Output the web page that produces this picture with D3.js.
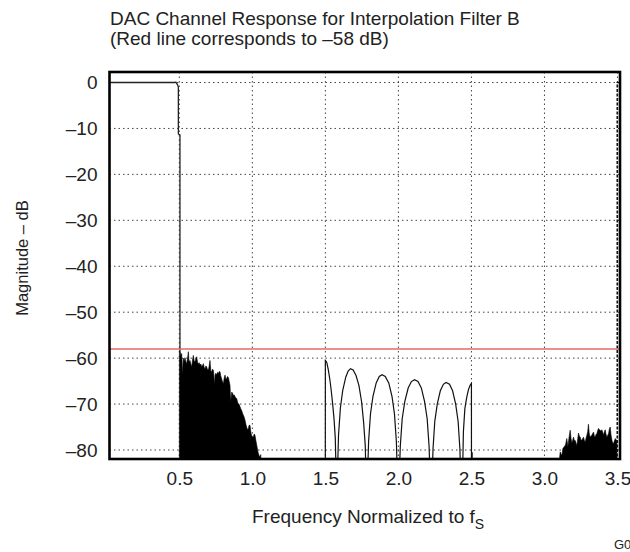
<!DOCTYPE html>
<html>
<head>
<meta charset="utf-8">
<script src="https://cdn.jsdelivr.net/npm/d3@7"></script>
<style>
  body { margin: 0; background: #fff; }
  svg { display: block; }
  text { font-family: "Liberation Sans", Arial, Helvetica, sans-serif; fill: #222; }
</style>
</head>
<body>
<svg id="chart" width="630" height="552"></svg>
<script>
// ---------- data ----------
const titleLines = ["DAC Channel Response for Interpolation Filter B", "(Red line corresponds to \u201358 dB)"];
const xLabel = "Frequency Normalized to f";
const xLabelSub = "S";
const yLabel = "Magnitude \u2013 dB";
const figureId = "G0";
const xTicks = [0.5, 1.0, 1.5, 2.0, 2.5, 3.0, 3.5];
const yTicks = [0, -10, -20, -30, -40, -50, -60, -70, -80];
const referenceDb = -58;

// passband and transition
const passF  = [0.0, 0.470, 0.476, 0.482, 0.488, 0.4935, 0.4935, 0.5045, 0.5045];
const passDb = [0.0, 0.0, 0.1, -0.2, -0.5, -1.0, -11.2, -11.4, -58.1];

// first stopband (dense, drawn filled)
const stop1F = [0.500,0.501,0.505,0.510,0.516,0.520,0.523,0.527,0.533,0.539,0.545,0.550,0.556,0.562,0.567,0.573,0.579,0.585,0.590,0.596,0.602,0.608,0.613,0.619,0.625,0.630,0.636,0.642,0.648,0.653,0.659,0.665,0.670,0.676,0.682,0.687,0.693,0.699,0.704,0.710,0.716,0.722,0.727,0.733,0.737,0.740,0.745,0.750,0.756,0.762,0.767,0.773,0.779,0.784,0.790,0.796,0.802,0.807,0.813,0.819,0.824,0.830,0.836,0.841,0.847,0.852,0.859,0.864,0.870,0.876,0.882,0.887,0.893,0.899,0.904,0.910,0.916,0.921,0.927,0.933,0.938,0.944,0.950,0.956,0.961,0.967,0.973,0.978,0.984,0.990,0.995,1.001,1.007,1.013,1.018,1.024,1.030,1.036,1.041,1.047,1.053,1.058,1.062];
const stop1Db = [-100,-58.5,-58.1,-59.5,-59.0,-61.5,-63.7,-60.0,-60.6,-59.9,-60.8,-61.2,-60.2,-58.6,-60.9,-60.5,-61.3,-61.9,-60.5,-59.4,-60.6,-60.8,-60.2,-59.7,-60.9,-61.2,-61.0,-61.5,-61.3,-61.9,-61.6,-61.2,-62.0,-62.3,-61.7,-61.9,-62.5,-62.6,-61.8,-60.5,-62.8,-63.0,-62.4,-62.6,-63.8,-65.9,-63.7,-63.3,-63.7,-63.1,-63.4,-62.9,-63.0,-63.9,-64.5,-65.2,-65.5,-64.4,-63.7,-64.6,-64.5,-64.0,-64.2,-65.0,-65.9,-69.5,-67.4,-67.6,-68.1,-68.0,-68.4,-68.7,-68.8,-69.6,-69.9,-70.1,-70.6,-71.0,-71.4,-72.0,-72.4,-72.8,-73.5,-74.4,-75.0,-75.6,-75.3,-74.6,-74.6,-76.2,-76.8,-77.2,-77.1,-76.5,-76.8,-77.9,-78.9,-80.0,-80.7,-81.3,-81.5,-81.0,-100];

// side lobes between 1.5 and 2.5
const lobeF = [1.4995,1.500,1.505,1.510,1.520,1.530,1.540,1.550,1.560,1.568,1.574,1.578,1.582,1.590,1.603,1.619,1.640,1.656,1.672,1.690,1.710,1.730,1.748,1.762,1.773,1.779,1.783,1.787,1.796,1.809,1.826,1.848,1.869,1.888,1.910,1.934,1.956,1.973,1.986,1.995,1.999,2.003,2.013,2.026,2.044,2.067,2.089,2.110,2.134,2.157,2.179,2.197,2.210,2.220,2.224,2.228,2.237,2.249,2.266,2.287,2.308,2.326,2.350,2.371,2.392,2.409,2.421,2.430,2.434,2.438,2.445,2.455,2.468,2.480,2.491,2.500,2.5005,2.504,2.505,2.506];
const lobeDb = [-100,-60.5,-60.7,-61.0,-62.5,-64.5,-67.0,-70.0,-73.5,-77.5,-86,-100,-86.3,-76.8,-70.8,-67.0,-64.1,-62.8,-62.3,-62.6,-63.8,-66.0,-69.5,-74.0,-79.0,-86.3,-100,-87.6,-78.1,-72.1,-68.3,-65.4,-64.0,-63.6,-64.0,-65.4,-68.3,-72.1,-78.1,-87.6,-100,-88.7,-79.2,-73.2,-69.4,-66.5,-65.1,-64.7,-65.1,-66.5,-69.4,-73.2,-79.2,-88.7,-100,-89.3,-79.8,-73.8,-70.0,-67.1,-65.7,-65.3,-65.7,-67.1,-70.0,-73.8,-79.8,-89.3,-100,-88.0,-76.0,-71.0,-68.5,-66.8,-65.9,-65.5,-100,-100,-80.5,-100];

// stopband near 3.5 (dense, drawn filled)
const stop2F = [3.100,3.103,3.108,3.114,3.119,3.126,3.135,3.144,3.153,3.160,3.169,3.176,3.182,3.188,3.193,3.199,3.205,3.210,3.216,3.222,3.228,3.233,3.239,3.245,3.250,3.256,3.262,3.267,3.273,3.279,3.284,3.290,3.296,3.301,3.307,3.313,3.318,3.324,3.330,3.336,3.341,3.347,3.353,3.359,3.364,3.370,3.376,3.382,3.387,3.393,3.399,3.404,3.410,3.416,3.421,3.427,3.433,3.439,3.444,3.450,3.456,3.462,3.467,3.473,3.479,3.485,3.490,3.496,3.499];
const stop2Db = [-100,-81.9,-80.4,-81.0,-81.1,-79.7,-79.3,-78.9,-77.5,-79.3,-77.1,-75.7,-77.5,-78.5,-77.9,-77.2,-78.0,-77.9,-78.5,-79.0,-77.5,-76.3,-77.0,-77.2,-77.8,-77.9,-77.5,-77.2,-77.9,-78.3,-77.5,-76.8,-76.0,-74.4,-76.5,-77.2,-77.0,-76.8,-76.4,-76.1,-76.9,-77.2,-76.6,-76.4,-75.8,-75.3,-75.6,-75.7,-75.9,-75.6,-76.2,-76.8,-76.0,-75.6,-76.5,-77.2,-76.8,-76.4,-75.5,-75.0,-76.8,-77.9,-78.4,-78.6,-78.0,-77.5,-77.8,-77.9,-100];

// rise back to the next passband image at 3.5
const edgeF  = [3.4985, 3.4985, 3.53];
const edgeDb = [-100, 0.0, 0.0];

// ---------- layout ----------
const frame = { left: 109.5, right: 620, top: 72, bottom: 459 };
const FONT = 19;

const svg = d3.select("#chart");

const x = d3.scaleLinear().domain([0.5, 3.5]).range([179.3, 617.5]);
const y = d3.scaleLinear().domain([0, -80]).range([82.5, 450]);

const zip = (fs, ds) => fs.map((f, i) => ({ f, db: ds[i] }));

// clip
svg.append("defs").append("clipPath").attr("id", "plotclip")
  .append("rect")
  .attr("x", frame.left).attr("y", frame.top)
  .attr("width", frame.right - frame.left).attr("height", frame.bottom - frame.top);

// grid
const grid = svg.append("g").attr("clip-path", "url(#plotclip)");
grid.selectAll("line.hg").data(yTicks).join("line")
  .attr("class", "hg")
  .attr("x1", frame.left).attr("x2", frame.right)
  .attr("y1", d => y(d)).attr("y2", d => y(d))
  .attr("stroke", "#444").attr("stroke-width", 1)
  .attr("stroke-dasharray", "1.5,3");
grid.selectAll("line.vg").data(xTicks).join("line")
  .attr("class", "vg")
  .attr("y1", frame.top).attr("y2", frame.bottom)
  .attr("x1", d => x(d)).attr("x2", d => x(d))
  .attr("stroke", "#444").attr("stroke-width", 1)
  .attr("stroke-dasharray", "1.5,3");

// data
const plot = svg.append("g").attr("clip-path", "url(#plotclip)");
const line = d3.line().x(d => x(d.f)).y(d => y(d.db));
const area = d3.area().x(d => x(d.f)).y0(y(-100)).y1(d => y(d.db));

plot.append("path").datum(zip(stop1F, stop1Db))
  .attr("d", area).attr("fill", "#000").attr("stroke", "#000").attr("stroke-width", 0.6);
plot.append("path").datum(zip(stop2F, stop2Db))
  .attr("d", area).attr("fill", "#000").attr("stroke", "#000").attr("stroke-width", 0.6);
plot.append("path").datum(zip(passF, passDb))
  .attr("d", line).attr("fill", "none").attr("stroke", "#222").attr("stroke-width", 1.3);
plot.append("path").datum(zip(lobeF, lobeDb))
  .attr("d", line).attr("fill", "none").attr("stroke", "#111").attr("stroke-width", 1.2);
plot.append("path").datum(zip(edgeF, edgeDb))
  .attr("d", line).attr("fill", "none").attr("stroke", "#111").attr("stroke-width", 1.6)
  .attr("stroke-dasharray", "3,1.5");

// reference line
plot.append("line")
  .attr("x1", frame.left).attr("x2", frame.right)
  .attr("y1", y(referenceDb)).attr("y2", y(referenceDb))
  .attr("stroke", "#e06a6a").attr("stroke-width", 1.4);

// frame
svg.append("rect")
  .attr("x", frame.left).attr("y", frame.top)
  .attr("width", frame.right - frame.left).attr("height", frame.bottom - frame.top)
  .attr("fill", "none").attr("stroke", "#000").attr("stroke-width", 2.6);

// axes
const yAxis = d3.axisLeft(y).tickValues(yTicks).tickSize(0).tickPadding(12)
  .tickFormat(d => d === 0 ? "0" : "\u2013" + Math.abs(d));
const gy = svg.append("g").attr("transform", `translate(${frame.left},0)`).call(yAxis);
gy.select(".domain").remove();
gy.selectAll("text").attr("font-size", FONT).style("fill", "#222");

const xAxis = d3.axisBottom(x).tickValues(xTicks).tickSize(0).tickPadding(13)
  .tickFormat(d3.format(".1f"));
const gx = svg.append("g").attr("transform", `translate(0,${frame.bottom})`).call(xAxis);
gx.select(".domain").remove();
gx.selectAll("text").attr("font-size", FONT).style("fill", "#222");
svg.selectAll("g").attr("font-family", null);

// titles
svg.selectAll("text.title").data(titleLines).join("text")
  .attr("class", "title")
  .attr("x", 110).attr("y", (d, i) => 25 + i * 20)
  .attr("font-size", FONT)
  .text(d => d);

svg.append("text")
  .attr("transform", "translate(27.5,258) rotate(-90)")
  .attr("text-anchor", "middle")
  .attr("font-size", 16.5)
  .text(yLabel);

const xt = svg.append("text")
  .attr("x", 252).attr("y", 523)
  .attr("font-size", FONT);
xt.append("tspan").text(xLabel);
xt.append("tspan").attr("font-size", 14).attr("dy", 6).text(xLabelSub);

svg.append("text")
  .attr("x", 614).attr("y", 549)
  .attr("font-size", 13)
  .text(figureId);
</script>
</body>
</html>
